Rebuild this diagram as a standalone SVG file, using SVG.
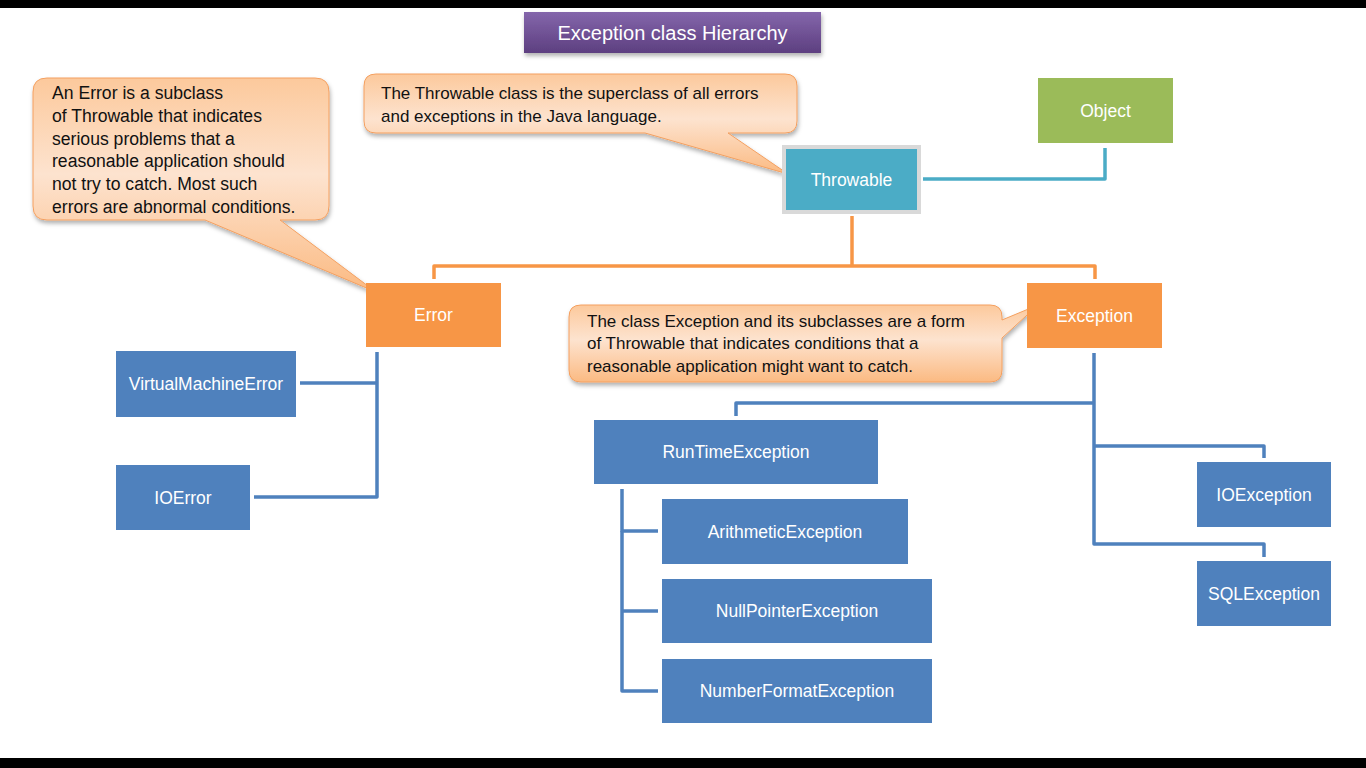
<svg xmlns="http://www.w3.org/2000/svg" width="1366" height="768" viewBox="0 0 1366 768">
<defs>
<linearGradient id="callGrad" x1="0" y1="0" x2="0" y2="1">
<stop offset="0" stop-color="#fcc99c"/>
<stop offset="0.45" stop-color="#fde3cf"/>
<stop offset="1" stop-color="#fbba82"/>
</linearGradient>
<linearGradient id="titleGrad" x1="0" y1="0" x2="0" y2="1">
<stop offset="0" stop-color="#8466ab"/>
<stop offset="1" stop-color="#5d3f80"/>
</linearGradient>
<filter id="shadow" x="-10%" y="-10%" width="120%" height="130%">
<feDropShadow dx="1" dy="3" stdDeviation="2" flood-color="#000" flood-opacity="0.3"/>
</filter>
</defs>
<style>
.bar{fill:#000}
.node text{font-family:"Liberation Sans",Arial,sans-serif;font-size:17.5px;fill:#fff;text-anchor:middle;dominant-baseline:central}
.blue{fill:#4f81bd}
.orange{fill:#f79646}
.green{fill:#9bbb59}
.teal{fill:#4bacc6;stroke:#d9d9d9;stroke-width:4}
.callout path{fill:url(#callGrad);stroke:#f4a060;stroke-width:1}
.callout text{font-family:"Liberation Sans",Arial,sans-serif;font-size:17px;fill:#111}
#callout-error text{font-size:17.6px}
.conn{fill:none;stroke-width:3.5;stroke-linejoin:round}
.c-blue{stroke:#4f81bd}
.c-orange{stroke:#f79646}
.c-teal{stroke:#4bacc6}
.title text{font-family:"Liberation Sans",Arial,sans-serif;font-size:20px;fill:#fff;text-anchor:middle;dominant-baseline:central}
</style>
<rect width="1366" height="768" fill="#fff"/>
<rect class="bar" x="0" y="0" width="1366" height="8"/>
<rect class="bar" x="0" y="758" width="1366" height="10"/>

<g id="title" class="title">
<rect x="524" y="12" width="297" height="41" fill="url(#titleGrad)" filter="url(#shadow)"/>
<text x="672.5" y="33">Exception class Hierarchy</text>
</g>

<g id="connectors">
<polyline class="conn c-teal" points="923,179 1105,179 1105,148"/>
<polyline class="conn c-orange" points="852,216 852,266"/>
<polyline class="conn c-orange" points="434,279 434,266 1095,266 1095,279"/>
<polyline class="conn c-blue" points="377,352 377,497 254,497"/>
<polyline class="conn c-blue" points="300,383 377,383"/>
<polyline class="conn c-blue" points="1094,353 1094,544 1264,544 1264,557"/>
<polyline class="conn c-blue" points="1094,403 736,403 736,416"/>
<polyline class="conn c-blue" points="1094,446 1264,446 1264,458"/>
<polyline class="conn c-blue" points="658,531 622,531 622,489"/>
<polyline class="conn c-blue" points="622,531 622,691 658,691"/>
<polyline class="conn c-blue" points="622,611 658,611"/>
</g>

<g id="callout-error" class="callout">
<path filter="url(#shadow)" d="M47,78 H315 Q329,78 329,92 V206 Q329,220 315,220 H280 L376,292 L205,220 H47 Q33,220 33,206 V92 Q33,78 47,78 Z"/>
<text x="52" y="99">An Error is a subclass</text>
<text x="52" y="122">of Throwable that indicates</text>
<text x="52" y="145">serious problems that a</text>
<text x="52" y="167">reasonable application should</text>
<text x="52" y="190">not try to catch. Most such</text>
<text x="52" y="213">errors are abnormal conditions.</text>
</g>

<g id="callout-throwable" class="callout">
<path filter="url(#shadow)" d="M376,74 H785 Q797,74 797,86 V121 Q797,133 785,133 H728 L788,174 L645,133 H376 Q364,133 364,121 V86 Q364,74 376,74 Z"/>
<text x="381" y="99">The Throwable class is the superclass of all errors</text>
<text x="381" y="122">and exceptions in the Java language.</text>
</g>

<g id="callout-exception" class="callout">
<path filter="url(#shadow)" d="M581,305 H990 Q1002,305 1002,317 V320 L1038,305 L1002,338 V370 Q1002,382 990,382 H581 Q569,382 569,370 V317 Q569,305 581,305 Z"/>
<text x="587" y="327">The class Exception and its subclasses are a form</text>
<text x="587" y="349">of Throwable that indicates conditions that a</text>
<text x="587" y="372">reasonable application might want to catch.</text>
</g>

<g id="node-object" class="node">
<rect class="green" x="1038" y="78" width="135" height="65"/>
<text x="1105.5" y="111">Object</text>
</g>
<g id="node-throwable" class="node">
<rect class="teal" x="784" y="147" width="135" height="65"/>
<text x="851.5" y="179.5">Throwable</text>
</g>
<g id="node-error" class="node">
<rect class="orange" x="366" y="283" width="135" height="64"/>
<text x="433.5" y="315">Error</text>
</g>
<g id="node-exception" class="node">
<rect class="orange" x="1027" y="283" width="135" height="65"/>
<text x="1094.5" y="316">Exception</text>
</g>
<g id="node-vme" class="node">
<rect class="blue" x="116" y="351" width="180" height="66"/>
<text x="206" y="384">VirtualMachineError</text>
</g>
<g id="node-ioerror" class="node">
<rect class="blue" x="116" y="465" width="134" height="65"/>
<text x="183" y="497.5">IOError</text>
</g>
<g id="node-runtime" class="node">
<rect class="blue" x="594" y="420" width="284" height="64"/>
<text x="736" y="452">RunTimeException</text>
</g>
<g id="node-arithmetic" class="node">
<rect class="blue" x="662" y="499" width="246" height="65"/>
<text x="785" y="531.5">ArithmeticException</text>
</g>
<g id="node-nullpointer" class="node">
<rect class="blue" x="662" y="579" width="270" height="64"/>
<text x="797" y="611">NullPointerException</text>
</g>
<g id="node-numberformat" class="node">
<rect class="blue" x="662" y="659" width="270" height="64"/>
<text x="797" y="691">NumberFormatException</text>
</g>
<g id="node-ioexception" class="node">
<rect class="blue" x="1197" y="462" width="134" height="65"/>
<text x="1264" y="494.5">IOException</text>
</g>
<g id="node-sqlexception" class="node">
<rect class="blue" x="1197" y="561" width="134" height="65"/>
<text x="1264" y="593.5">SQLException</text>
</g>
</svg>
